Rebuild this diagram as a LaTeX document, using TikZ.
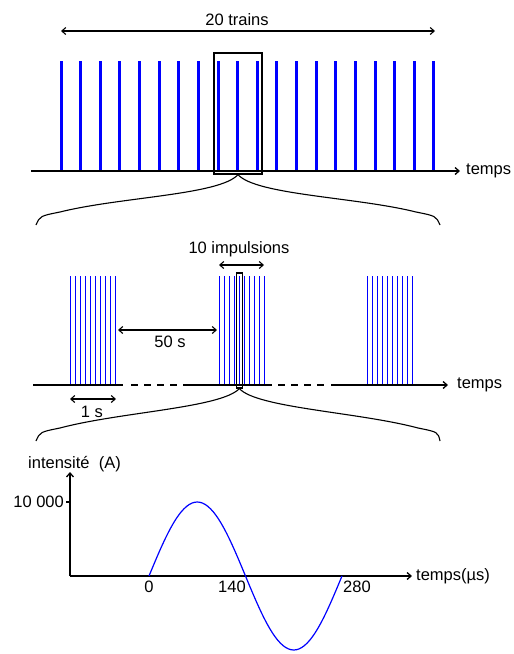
\documentclass[tikz,border=0pt]{standalone}
\usepackage{fontspec}
\setmainfont{Liberation Sans}
\usetikzlibrary{arrows.meta,positioning,calc}
\definecolor{Pulse}{HTML}{0000FF}
\tikzset{
  axis/.style={-{Straight Barb[length=4pt,width=7pt]},line width=1.3pt},
  span/.style={{Straight Barb[length=4pt,width=7pt]}-{Straight Barb[length=4pt,width=7pt]},line width=1.1pt},
  train/.style={draw=Pulse,line width=3pt},
  pulse/.style={draw=Pulse,line width=1pt},
  frame/.style={draw,line width=1.2pt,inner sep=0pt},
  brace/.style={line width=1.1pt},
  gap/.style={line width=1.3pt,dash pattern=on 6.5pt off 6.5pt},
  lbl/.style={font=\fontsize{16.5}{18}\selectfont,inner sep=0pt}
}

\begin{document}
\begin{tikzpicture}[x=1pt,y=-1pt]
  \useasboundingbox (0,0) rectangle (514,654);

  % 20 trains
  \foreach \i in {0,...,19}
    \draw[train] (61+19.63*\i,61) -- (61+19.63*\i,171);
  \coordinate (t0) at (31,171);
  \coordinate (t1) at (460,171);
  \draw[axis] (t0) -- (t1);
  \node[lbl,right=6pt of t1] (temps1) {temps};
  \coordinate (a1) at (61,31);
  \coordinate (b1) at (435,31);
  \draw[span] (a1) -- (b1);
  \node[lbl,anchor=base] (trains) at (237,25) {20 trains};
  \node[frame,minimum width=48pt,minimum height=121pt] (zoom1) at (238,113.5) {};
  \draw[brace] (zoom1.south) .. controls (220,195) and (120,197) .. (60,212) .. controls (40,216) .. (36,225);
  \draw[brace] (zoom1.south) .. controls (256,195) and (356,197) .. (416,212) .. controls (436,216) .. (440,225);

  % one train = 10 impulsions
  \foreach \s in {70,219,367}
    \foreach \j in {0,...,9}
      \draw[pulse] (\s+5.11*\j,276) -- (\s+5.11*\j,385);
  \coordinate (m0) at (33,385);
  \coordinate (m1) at (448,385);
  \draw[line width=1.3pt] (m0) -- (123,385) (183,385) -- (272,385);
  \draw[gap] (131,385) -- (177,385) (278,385) -- (325,385);
  \draw[axis] (331,385) -- (m1);
  \node[lbl,right=9pt of m1] (temps2) {temps};
  \node[frame,minimum width=6pt,minimum height=115pt] (zoom2) at (239.4,330.5) {};
  \coordinate (i0) at (219,265);
  \coordinate (i1) at (264,265);
  \draw[span] (i0) -- (i1);
  \node[lbl,anchor=base] (impulsions) at (239,253) {10 impulsions};
  \coordinate (p0) at (118,330);
  \coordinate (p1) at (217,330);
  \draw[span] (p0) -- (p1);
  \node[lbl,anchor=base] (pause) at (170,347) {50 s};
  \coordinate (d0) at (70,399);
  \coordinate (d1) at (116,399);
  \draw[span] (d0) -- (d1);
  \node[lbl,anchor=base] (duree) at (92,417) {1 s};
  \draw[brace] (zoom2.south) .. controls (221,408) and (120,412) .. (60,428) .. controls (40,432) .. (36,441);
  \draw[brace] (zoom2.south) .. controls (257,408) and (358,412) .. (418,428) .. controls (438,432) .. (440,441);

  % one impulsion
  \coordinate (o) at (70,576);
  \coordinate (ytop) at (70,472);
  \coordinate (xend) at (412,576);
  \draw[axis] (o) -- (ytop);
  \draw[axis] (o) -- (xend);
  \draw[line width=1.1pt] (66,502) -- (70,502);
  \node[lbl,anchor=base west] (intensite) at (28,468) {intensité~~(A)};
  \node[lbl,anchor=base east] (imax) at (64,507) {10 000};
  \node[lbl,right=4pt of xend] (temps3) {temps(µs)};
  \node[lbl,anchor=base] (t0lbl) at (149,592) {0};
  \node[lbl,anchor=base] (t140) at (232,592) {140};
  \node[lbl,anchor=base] (t280) at (357,592) {280};
  \draw[Pulse,line width=1.2pt] plot[domain=0:360,samples=73,smooth] ({149+0.5361*\x},{576-74*sin(\x)});
\end{tikzpicture}
\end{document}
